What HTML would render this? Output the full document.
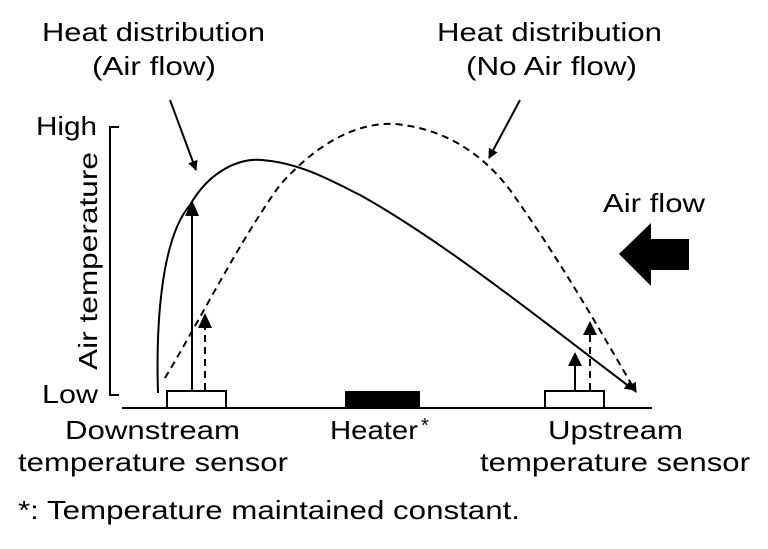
<!DOCTYPE html>
<html><head><style>
body{margin:0;background:#fff;}
svg text{font-family:"Liberation Sans",sans-serif;fill:#000;}
</style></head><body>
<svg width="768" height="544" viewBox="0 0 768 544" xmlns="http://www.w3.org/2000/svg">
<defs>
<marker id="ah" markerWidth="10" markerHeight="10" refX="9" refY="5" orient="auto" markerUnits="userSpaceOnUse"><path d="M0,0 L10,5 L0,10 Z" fill="#000"/></marker>
</defs>
<g font-size="26">
<text x="42" y="41" textLength="223" lengthAdjust="spacingAndGlyphs">Heat distribution</text>
<text x="92" y="75" textLength="124" lengthAdjust="spacingAndGlyphs">(Air flow)</text>
<text x="437" y="41" textLength="225" lengthAdjust="spacingAndGlyphs">Heat distribution</text>
<text x="466" y="75" textLength="171" lengthAdjust="spacingAndGlyphs">(No Air flow)</text>
<text x="65" y="439" textLength="175" lengthAdjust="spacingAndGlyphs">Downstream</text>
<text x="18" y="471" textLength="270" lengthAdjust="spacingAndGlyphs">temperature sensor</text>
<text x="330" y="439" textLength="88" lengthAdjust="spacingAndGlyphs">Heater</text>
<text x="421" y="432" font-size="20">*</text>
<text x="548" y="439" textLength="135" lengthAdjust="spacingAndGlyphs">Upstream</text>
<text x="480" y="471" textLength="270" lengthAdjust="spacingAndGlyphs">temperature sensor</text>
<text x="36" y="135" textLength="61" lengthAdjust="spacingAndGlyphs">High</text>
<text x="42" y="403" textLength="56" lengthAdjust="spacingAndGlyphs">Low</text>
<text x="603" y="212" textLength="102" lengthAdjust="spacingAndGlyphs">Air flow</text>
<text x="18" y="519" textLength="502" lengthAdjust="spacingAndGlyphs">*: Temperature maintained constant.</text>
<text transform="translate(97,370) rotate(-90)" x="0" y="0" textLength="218" lengthAdjust="spacingAndGlyphs">Air temperature</text>
</g>
<g stroke="#000" fill="none" stroke-width="2">
<path d="M119,127 H110 V395 H119"/>
<line x1="122" y1="408" x2="652" y2="408"/>
<path d="M158,393 C156,330 160,240 190,205 C210,170 240,158 262,160 C300,163 330,180 360,195 C450,245 560,335 634,390" marker-end="url(#ah)"/>
<path d="M165,378 C200,320 240,240 280,185 C320,140 360,122 395,124 C440,128 480,150 510,190 C560,260 600,330 636,392" stroke-dasharray="7,5" marker-end="url(#ah)"/>
<line x1="192" y1="390" x2="192" y2="208"/>
<line x1="205" y1="390" x2="205" y2="322" stroke-dasharray="7,5"/>
<line x1="575" y1="390" x2="575" y2="358"/>
<line x1="590" y1="390" x2="590" y2="328" stroke-dasharray="7,5"/>
<line x1="170" y1="100" x2="196" y2="170" marker-end="url(#ah)"/>
<line x1="520" y1="100" x2="489" y2="158" marker-end="url(#ah)"/>
</g>
<g fill="#000">
<path d="M192,200 L185,216 L199,216 Z"/>
<path d="M205,313 L198,328 L212,328 Z"/>
<path d="M575,352 L568,366 L582,366 Z"/>
<path d="M590,321 L583,335 L597,335 Z"/>
<rect x="345" y="391" width="75" height="17"/>
<path d="M619,254 L651,223 L651,239 L689,239 L689,270 L651,270 L651,286 Z"/>
</g>
<rect x="167" y="391" width="59" height="17" fill="#fff" stroke="#000" stroke-width="2"/>
<rect x="545" y="391" width="59" height="17" fill="#fff" stroke="#000" stroke-width="2"/>
</svg>
</body></html>
